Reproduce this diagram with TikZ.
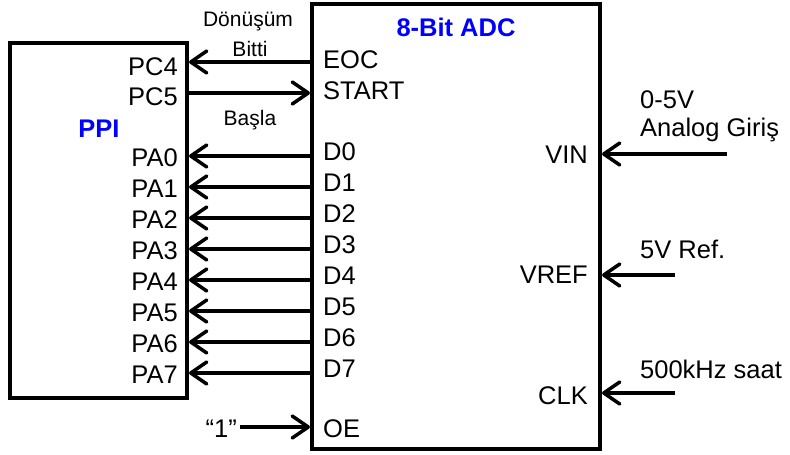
\documentclass[tikz,border=0pt]{standalone}
\usepackage{fontspec}
\setmainfont{Liberation Sans}
\usetikzlibrary{arrows.meta}
\begin{document}
\begin{tikzpicture}[x=1pt,y=-1pt,
  chip/.style={draw=black,line width=4pt,fill=white,inner sep=0pt},
  arr/.style={line width=3.5pt,-{Straight Barb[length=16pt,width=22pt,round]}},
  lbl/.style={inner sep=0pt,font=\fontsize{25.5}{30}\selectfont},
  sml/.style={inner sep=0pt,font=\fontsize{21}{26}\selectfont},
  ttl/.style={inner sep=0pt,text=blue,font=\fontsize{25.5}{30}\selectfont\bfseries}]
\useasboundingbox (0,0) rectangle (790,455);
% boxes
\node[chip,minimum width=177pt,minimum height=355pt] (ppi) at (98.5,220.5) {};
\node[chip,minimum width=288pt,minimum height=445pt] (adc) at (456,226.5) {};
\node[ttl,anchor=base] (ppit) at (99,137) {PPI};
\node[ttl,anchor=base] (adct) at (456,36) {8-Bit ADC};
% control pins
\coordinate (eocp) at (adc.west |- 0,62);
\coordinate (startp) at (adc.west |- 0,93);
\coordinate (oep) at (adc.west |- 0,427);
\coordinate (one) at (240,427);
\draw[arr] (eocp) -- (ppi.east |- eocp);
\draw[arr] (ppi.east |- startp) -- (startp);
\draw[arr] (one) -- (oep);
\node[lbl,anchor=base east] (pc4) at (178,75) {PC4};
\node[lbl,anchor=base east] (pc5) at (178,105) {PC5};
\node[lbl,anchor=base west] (eoc) at (323,68) {EOC};
\node[lbl,anchor=base west] (start) at (323,99) {START};
\node[lbl,anchor=base west] (oe) at (323,437) {OE};
\node[lbl,anchor=base east] (onet) at (237,437) {“1”};
\node[sml,anchor=base] (don) at (248,26) {Dönüşüm};
\node[sml,anchor=base] (bitti) at (250,56) {Bitti};
\node[sml,anchor=base] (basla) at (250,125) {Başla};
% data pins
\foreach \i in {0,...,7}{
  \coordinate (d\i) at (adc.west |- 0,{156+31*\i});
  \draw[arr] (d\i) -- (ppi.east |- d\i);
  \node[lbl,anchor=base east] (pa\i) at (178,{166+31*\i}) {PA\i};
  \node[lbl,anchor=base west] (dl\i) at (323,{160+31*\i}) {D\i};
}
% right side inputs
\coordinate (vinp) at (adc.east |- 0,154);
\coordinate (vrefp) at (adc.east |- 0,275);
\coordinate (clkp) at (adc.east |- 0,393);
\coordinate (vins) at (727,154);
\coordinate (vrefs) at (675,275);
\coordinate (clks) at (675,393);
\draw[arr] (vins) -- (vinp);
\draw[arr] (vrefs) -- (vrefp);
\draw[arr] (clks) -- (clkp);
\node[lbl,anchor=base east] (vin) at (588,163) {VIN};
\node[lbl,anchor=base east] (vref) at (588,283) {VREF};
\node[lbl,anchor=base east] (clk) at (588,404) {CLK};
\node[lbl,anchor=base west] (v05) at (640,108) {0-5V};
\node[lbl,anchor=base west] (ag) at (640,136) {Analog Giriş};
\node[lbl,anchor=base west] (ref) at (640,258) {5V Ref.};
\node[lbl,anchor=base west] (saat) at (640,378) {500kHz saat};
\end{tikzpicture}
\end{document}
